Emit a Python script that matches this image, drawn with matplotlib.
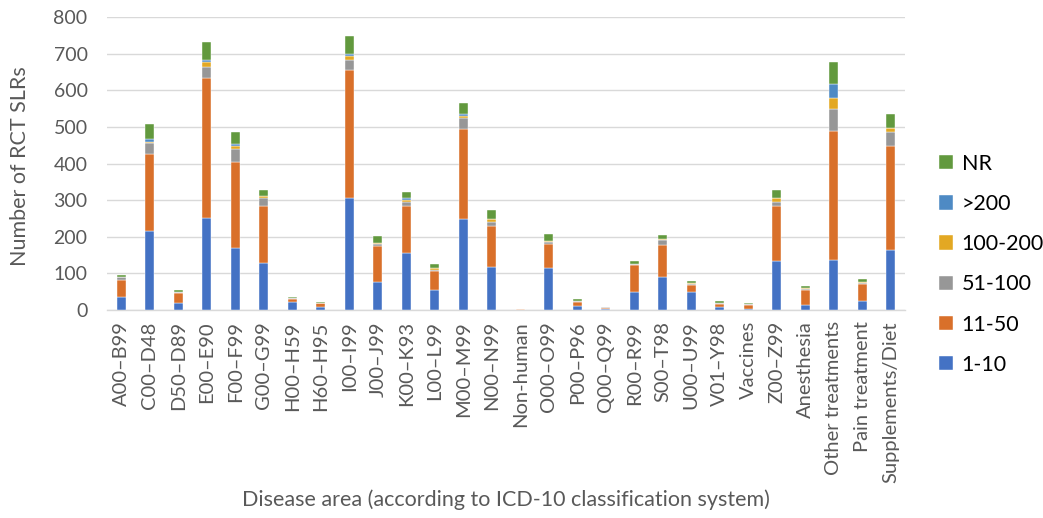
import matplotlib
matplotlib.use("Agg")
import matplotlib.pyplot as plt
import numpy as np

plt.rcParams['font.family'] = ['Lato', 'DejaVu Sans']

categories = [
    "A00–B99", "C00–D48", "D50–D89", "E00–E90", "F00–F99", "G00–G99",
    "H00–H59", "H60–H95", "I00–I99", "J00–J99", "K00–K93", "L00–L99",
    "M00–M99", "N00–N99", "Non-human", "O00–O99", "P00–P96", "Q00–Q99",
    "R00–R99", "S00–T98", "U00–U99", "V01–Y98", "Vaccines", "Z00–Z99",
    "Anesthesia", "Other treatments", "Pain treatment", "Supplements/Diet",
]

# Number of RCT SLRs by size class of included trials
n_1_10 = [36, 216, 20, 252, 168, 128, 23, 9, 306, 77, 157, 55, 249, 118, 1,
          115, 12, 2, 50, 89, 48, 7, 4, 133, 15, 137, 26, 165]
n_11_50 = [47, 210, 27, 382, 237, 157, 6, 9, 349, 98, 128, 52, 244, 112, 1,
           66, 11, 4, 72, 88, 20, 10, 11, 150, 39, 352, 44, 283]
n_51_100 = [6, 29, 3, 30, 35, 20, 3, 1, 28, 5, 10, 3, 32, 11, 0,
            6, 2, 1, 5, 13, 4, 3, 1, 12, 4, 60, 5, 37]
n_100_200 = [0, 5, 0, 14, 8, 7, 2, 0, 10, 3, 5, 4, 6, 7, 0,
             2, 0, 0, 0, 4, 2, 0, 0, 11, 1, 30, 2, 12]
n_over_200 = [0, 6, 0, 6, 6, 0, 0, 0, 6, 0, 5, 0, 3, 0, 0,
              0, 0, 0, 0, 0, 0, 0, 0, 0, 0, 39, 0, 0]
n_nr = [6, 41, 5, 48, 33, 15, 2, 2, 50, 19, 17, 11, 31, 25, 0,
        18, 6, 2, 7, 11, 5, 4, 2, 23, 6, 59, 8, 37]

series = [
    ("1-10", n_1_10, "#4472C4"),
    ("11-50", n_11_50, "#D9702A"),
    ("51-100", n_51_100, "#979797"),
    ("100-200", n_100_200, "#E3A823"),
    (">200", n_over_200, "#4E8AC4"),
    ("NR", n_nr, "#62993E"),
]

fig = plt.figure(figsize=(10.43, 5.18), dpi=100)
ax = fig.add_axes([0.1026, 0.4015, 0.7651, 0.5656])

x = np.arange(len(categories))
bottom = np.zeros(len(categories))
handles = []
for label, vals, color in series:
    vals = np.array(vals, dtype=float)
    b = ax.bar(x, vals, width=0.32, bottom=bottom, color=color,
               edgecolor="white", linewidth=0.3, label=label, zorder=3)
    handles.append(b)
    bottom += vals

ax.set_xlim(-0.5, len(categories) - 0.5)
ax.set_ylim(0, 800)
ax.set_yticks(np.arange(0, 801, 100))
ax.yaxis.grid(True, color="#D9D9D9", linewidth=1.0, zorder=0)
ax.set_axisbelow(True)
for side in ("top", "right", "left"):
    ax.spines[side].set_visible(False)
ax.spines["bottom"].set_color("#D9D9D9")
ax.spines["bottom"].set_linewidth(1.0)
ax.tick_params(axis="y", length=0, colors="#595959", labelsize=14, pad=14)
ax.tick_params(axis="x", length=0, colors="#595959", labelsize=14.5, pad=8)
ax.set_xticks(x)
ax.set_xticklabels(categories, rotation=90)

fig.text(0.019, 0.68, "Number of RCT SLRs", rotation=90,
         ha="center", va="center", fontsize=15.5, color="#595959")
fig.text(0.485, 0.035, "Disease area (according to ICD-10 classification system)",
         ha="center", va="center", fontsize=15.5, color="#595959")

leg = fig.legend(handles[::-1], [s[0] for s in series][::-1],
                 loc="upper left", bbox_to_anchor=(0.892, 0.72),
                 frameon=False, fontsize=15.5, handlelength=0.65, handleheight=0.65,
                 handletextpad=0.4, labelspacing=0.94, borderaxespad=0)

fig.savefig("out.png", dpi=100, facecolor="white")
